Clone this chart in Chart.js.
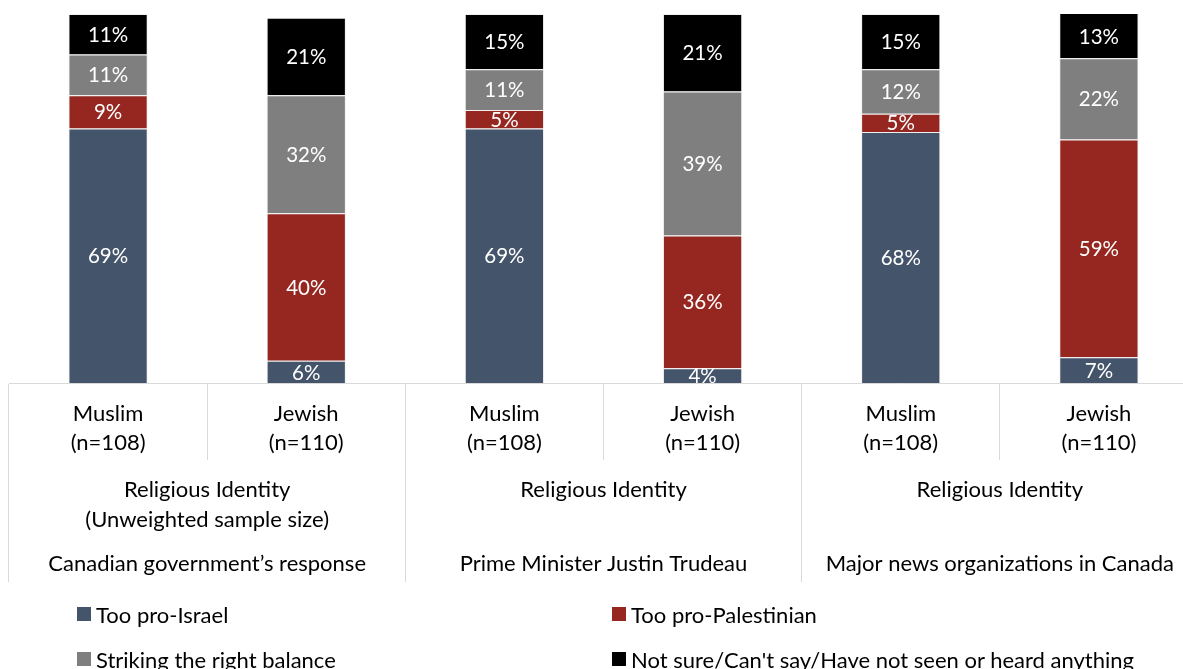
<!DOCTYPE html>
<html>
<head>
<meta charset="utf-8">
<script src="https://cdn.jsdelivr.net/npm/chart.js@4/dist/chart.umd.min.js"></script>
<style>
  html, body { margin: 0; padding: 0; background: #fff; overflow: hidden; width: 1183px; height: 669px; }
  #wrap { position: absolute; left: 0; top: 0; width: 1206px; height: 582px; }
  #legend { position: absolute; left: 0; top: 0; width: 1183px; height: 669px; pointer-events: none;
            font-family: Lato, "Open Sans", sans-serif; font-size: 22px; color: #000; }
  .li { position: absolute; display: flex; align-items: center; white-space: nowrap; height: 24px; }
  .sw { width: 14px; height: 14px; margin-right: 5px; flex: none; }
</style>
</head>
<body>
<div id="wrap"><canvas id="c"></canvas></div>
<div id="legend"></div>
<script>
const categories = [
  ['Muslim', '(n=108)'], ['Jewish', '(n=110)'],
  ['Muslim', '(n=108)'], ['Jewish', '(n=110)'],
  ['Muslim', '(n=108)'], ['Jewish', '(n=110)']
];
const groupLabels = [
  ['Religious Identity', '(Unweighted sample size)'],
  'Religious Identity',
  'Religious Identity'
];
const topicLabels = [
  'Canadian government\u2019s response',
  'Prime Minister Justin Trudeau',
  'Major news organizations in Canada'
];
const seriesNames = ['Too pro-Israel', 'Too pro-Palestinian', 'Striking the right balance', "Not sure/Can't say/Have not seen or heard anything"];
const tooProIsrael      = [69, 6, 69, 4, 68, 7];
const tooProPalestinian = [9, 40, 5, 36, 5, 59];
const rightBalance      = [11, 32, 11, 39, 12, 22];
const notSure           = [11, 21, 15, 21, 15, 13];
const colors = ['#44546A', '#952720', '#7F7F7F', '#000000'];

const FONT = 'Lato, "Open Sans", sans-serif';
const LINE = '#D9D9D9';

const valueLabels = {
  id: 'valueLabels',
  afterDatasetsDraw(chart) {
    const ctx = chart.ctx, a = chart.chartArea;
    ctx.save();
    ctx.beginPath();
    ctx.rect(a.left, a.top, a.right - a.left, a.bottom - a.top);
    ctx.clip();
    ctx.fillStyle = '#fff';
    ctx.font = '20.5px ' + FONT;
    ctx.textAlign = 'center';
    ctx.textBaseline = 'middle';
    chart.data.datasets.forEach((ds, i) => {
      const meta = chart.getDatasetMeta(i);
      meta.data.forEach((el, j) => {
        const v = ds.data[j];
        const top = Math.max(el.y, a.top);
        const cy = (top + el.base) / 2;
        ctx.fillText(v + '%', el.x, cy + 1);
      });
    });
    ctx.restore();
  }
};

const mk = (i, data) => ({
  label: seriesNames[i], data, backgroundColor: colors[i],
  borderColor: 'rgba(230,230,230,0.55)', borderWidth: 1, clip: 0
});

const chart = new Chart(document.getElementById('c'), {
  type: 'bar',
  data: {
    labels: categories,
    datasets: [mk(0, tooProIsrael), mk(1, tooProPalestinian), mk(2, rightBalance), mk(3, notSure)]
  },
  options: {
    responsive: true,
    maintainAspectRatio: false,
    animation: false,
    layout: { padding: { left: 9, right: 8, top: 14, bottom: 0 } },
    datasets: { bar: { categoryPercentage: 1, barPercentage: 0.4 } },
    plugins: { legend: { display: false }, tooltip: { enabled: false } },
    scales: {
      y: { stacked: true, display: false, min: 0, max: 100 },
      x: {
        stacked: true, position: 'bottom', weight: 1,
        border: { display: true, color: LINE, width: 1 },
        grid: { offset: true, drawOnChartArea: false, drawTicks: true, tickLength: 77, tickColor: LINE, tickWidth: 1, color: LINE },
        ticks: { color: '#000', font: { family: FONT, size: 22, lineHeight: 1.32 }, padding: -60.5, maxRotation: 0, autoSkip: false },
        afterFit: s => { s.height = 77; }
      },
      x2: {
        type: 'category', labels: groupLabels, offset: true, position: 'bottom', weight: 2,
        border: { display: false },
        grid: { offset: true, drawOnChartArea: false, drawTicks: true, tickLength: 74, tickColor: LINE, tickWidth: 1, color: LINE },
        ticks: { color: '#000', font: { family: FONT, size: 22, lineHeight: 1.364 }, padding: -59.5, maxRotation: 0, autoSkip: false },
        afterFit: s => { s.height = 74; }
      },
      x3: {
        type: 'category', labels: topicLabels, offset: true, position: 'bottom', weight: 3,
        border: { display: false },
        grid: { offset: true, drawOnChartArea: false, drawTicks: true, tickLength: 48, tickColor: LINE, tickWidth: 1, color: LINE },
        ticks: { color: '#000', font: { family: FONT, size: 22, lineHeight: 1.32 }, padding: -33, maxRotation: 0, autoSkip: false },
        afterFit: s => { s.height = 48; }
      }
    }
  },
  plugins: [valueLabels]
});

// HTML legend built from datasets
const legend = document.getElementById('legend');
const pos = [[77, 602], [612, 602], [77, 647], [612, 647]];
chart.data.datasets.forEach((ds, i) => {
  const d = document.createElement('div');
  d.className = 'li';
  d.style.left = pos[i][0] + 'px';
  d.style.top = pos[i][1] + 'px';
  const sw = document.createElement('span');
  sw.className = 'sw';
  sw.style.background = ds.backgroundColor;
  const t = document.createElement('span');
  t.textContent = ds.label;
  d.appendChild(sw); d.appendChild(t);
  legend.appendChild(d);
});
</script>
</body>
</html>
